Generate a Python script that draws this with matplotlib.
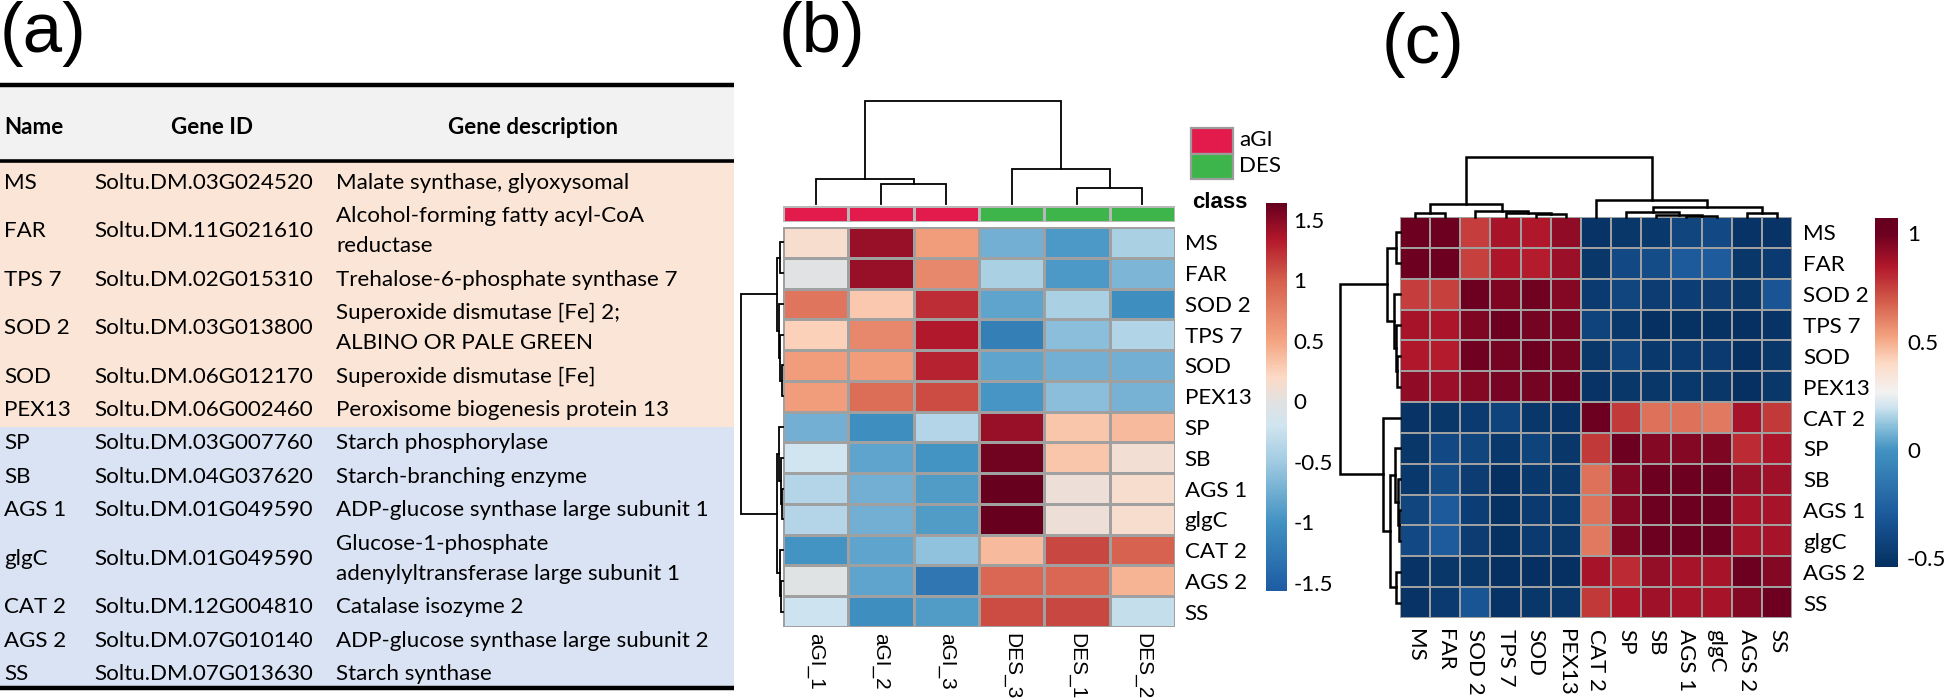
import numpy as np
import matplotlib
matplotlib.use("Agg")
import matplotlib.pyplot as plt
from matplotlib.colors import LinearSegmentedColormap, ListedColormap, Normalize
from matplotlib.patches import Rectangle
from matplotlib.textpath import TextPath
from matplotlib.font_manager import FontProperties

W, H, DPI = 1951, 700, 100

# ---------------- (a) table data ----------------
table_headers = ["Name", "Gene ID", "Gene description"]
gene_names = ["MS", "FAR", "TPS 7", "SOD 2", "SOD", "PEX13", "SP", "SB",
              "AGS 1", "glgC", "CAT 2", "AGS 2", "SS"]
gene_ids = ["Soltu.DM.03G024520", "Soltu.DM.11G021610", "Soltu.DM.02G015310",
            "Soltu.DM.03G013800", "Soltu.DM.06G012170", "Soltu.DM.06G002460",
            "Soltu.DM.03G007760", "Soltu.DM.04G037620", "Soltu.DM.01G049590",
            "Soltu.DM.01G049590", "Soltu.DM.12G004810", "Soltu.DM.07G010140",
            "Soltu.DM.07G013630"]
gene_desc = ["Malate synthase, glyoxysomal",
             "Alcohol-forming fatty acyl-CoA\nreductase",
             "Trehalose-6-phosphate synthase 7",
             "Superoxide dismutase [Fe] 2;\nALBINO OR PALE GREEN",
             "Superoxide dismutase [Fe]",
             "Peroxisome biogenesis protein 13",
             "Starch phosphorylase",
             "Starch-branching enzyme",
             "ADP-glucose synthase large subunit 1",
             "Glucose-1-phosphate\nadenylyltransferase large subunit 1",
             "Catalase isozyme 2",
             "ADP-glucose synthase large subunit 2",
             "Starch synthase"]
n_group1 = 6

# ---------------- (b) heatmap data ----------------
b_rows = ["MS", "FAR", "SOD 2", "TPS 7", "SOD", "PEX13", "SP", "SB",
          "AGS 1", "glgC", "CAT 2", "AGS 2", "SS"]
b_cols = ["aGI_1", "aGI_2", "aGI_3", "DES_3", "DES_1", "DES_2"]
b_class = [0, 0, 0, 1, 1, 1]
class_names = ["aGI", "DES"]
class_colors = ["#E31B4C", "#3DB54A"]
b_values = [
    [0.15, 1.45, 0.55, -0.75, -0.95, -0.45],
    [-0.02, 1.45, 0.70, -0.45, -0.95, -0.70],
    [0.85, 0.30, 1.25, -0.85, -0.45, -1.05],
    [0.25, 0.70, 1.35, -1.20, -0.62, -0.40],
    [0.55, 0.55, 1.30, -0.85, -0.75, -0.75],
    [0.55, 0.90, 1.10, -0.97, -0.62, -0.72],
    [-0.75, -1.05, -0.38, 1.45, 0.32, 0.38],
    [-0.20, -0.85, -1.00, 1.60, 0.32, 0.12],
    [-0.38, -0.75, -0.92, 1.64, 0.08, 0.16],
    [-0.38, -0.75, -0.92, 1.64, 0.08, 0.16],
    [-1.00, -0.85, -0.58, 0.38, 1.12, 0.98],
    [-0.03, -0.85, -1.30, 0.95, 0.95, 0.42],
    [-0.22, -1.05, -0.92, 1.10, 1.12, -0.28],
]
b_ticks = [1.5, 1, 0.5, 0, -0.5, -1, -1.5]
b_tick_labels = ["1.5", "1", "0.5", "0", "-0.5", "-1", "-1.5"]
b_range = (-1.57, 1.64)
b_anchor_vals = [-1.57, -1.0, -0.5, -0.2, 0.0, 0.2, 0.5, 1.0, 1.35, 1.64]
b_anchor_cols = ["#1d5ca3", "#4393c3", "#a2cce2", "#d1e5f0", "#e2e2e2",
                 "#fddbc7", "#f4a582", "#d6604d", "#b2182b", "#67001f"]
# trees: (height, left, right); leaves are positions in display order
b_col_tree = (1.0, (0.24, 0, (0.19, 1, 2)), (0.34, 3, (0.155, 4, 5)))
b_row_tree = (1.0,
              (0.14, (0.06, 0, 1), (0.10, 2, (0.07, 3, (0.03, 4, 5)))),
              (0.14, (0.09, 6, (0.05, 7, (0.02, 8, 9))), (0.08, 10, (0.04, 11, 12))))

# ---------------- (c) correlation data ----------------
c_labels = ["MS", "FAR", "SOD 2", "TPS 7", "SOD", "PEX13", "CAT 2", "SP", "SB",
            "AGS 1", "glgC", "AGS 2", "SS"]
c_values = [
    [1.00, 1.00, 0.76, 0.87, 0.85, 0.92, -0.52, -0.50, -0.49, -0.42, -0.40, -0.52, -0.52],
    [1.00, 1.00, 0.75, 0.86, 0.84, 0.90, -0.50, -0.40, -0.38, -0.30, -0.29, -0.50, -0.48],
    [0.76, 0.75, 1.00, 0.96, 0.99, 0.95, -0.48, -0.42, -0.47, -0.46, -0.47, -0.50, -0.33],
    [0.87, 0.86, 0.96, 1.00, 0.98, 0.97, -0.43, -0.49, -0.55, -0.53, -0.53, -0.56, -0.52],
    [0.85, 0.84, 0.99, 0.98, 1.00, 0.98, -0.50, -0.43, -0.49, -0.48, -0.48, -0.55, -0.50],
    [0.92, 0.90, 0.95, 0.97, 0.98, 1.00, -0.52, -0.50, -0.50, -0.49, -0.50, -0.56, -0.50],
    [-0.52, -0.50, -0.48, -0.43, -0.50, -0.52, 1.00, 0.77, 0.64, 0.64, 0.62, 0.87, 0.77],
    [-0.50, -0.40, -0.42, -0.49, -0.43, -0.50, 0.77, 1.00, 0.95, 0.95, 0.96, 0.80, 0.86],
    [-0.49, -0.38, -0.47, -0.55, -0.49, -0.50, 0.64, 0.95, 1.00, 1.00, 1.00, 0.91, 0.89],
    [-0.42, -0.30, -0.46, -0.53, -0.48, -0.49, 0.64, 0.95, 1.00, 1.00, 1.00, 0.87, 0.87],
    [-0.40, -0.29, -0.47, -0.53, -0.48, -0.50, 0.62, 0.96, 1.00, 1.00, 1.00, 0.87, 0.87],
    [-0.52, -0.50, -0.50, -0.56, -0.55, -0.56, 0.87, 0.80, 0.91, 0.87, 0.87, 1.00, 0.95],
    [-0.52, -0.48, -0.33, -0.52, -0.50, -0.50, 0.77, 0.86, 0.89, 0.87, 0.87, 0.95, 1.00],
]
c_ticks = [1, 0.5, 0, -0.5]
c_tick_labels = ["1", "0.5", "0", "-0.5"]
c_range = (-0.54, 1.07)
c_anchor_vals = [-0.54, -0.3, 0.0, 0.12, 0.2, 0.27, 0.4, 0.52, 0.68, 0.85, 1.0, 1.07]
c_anchor_cols = ["#053061", "#1c5a9c", "#4393c3", "#92c5de", "#d1e5f0", "#f4f2f1",
                 "#fddbc7", "#f4a582", "#d6604d", "#b2182b", "#6d0021", "#67001f"]
c_tree = (1.0,
          (0.21, (0.07, 0, 1), (0.10, 2, (0.07, 3, (0.05, 4, 5)))),
          (0.28, 6, (0.17, (0.08, 7, (0.04, 8, (0.02, 9, 10))), (0.07, 11, 12))))

# ---------------- styling ----------------
SANS = ["Lato", "DejaVu Sans"]
ARIAL = ["Liberation Sans", "DejaVu Sans"]
PEACH = "#FBE5D6"
BLUE = "#DAE3F3"
HEAD = "#F2F2F2"
GRID = "#A0A0A0"


def anchored_cmap(name, vals, cols):
    lo, hi = vals[0], vals[-1]
    pts = [((v - lo) / (hi - lo), c) for v, c in zip(vals, cols)]
    return LinearSegmentedColormap.from_list(name, pts), Normalize(lo, hi)


cmap_b, norm_b = anchored_cmap("cb", b_anchor_vals, b_anchor_cols)
cmap_c, norm_c = anchored_cmap("cc", c_anchor_vals, c_anchor_cols)


def fit_size(text, target_px, family, base=17.0):
    tp = TextPath((0, 0), text, size=base, prop=FontProperties(family=family))
    w = tp.get_extents().width * DPI / 72.0
    return base * target_px / w


FS = fit_size("Soltu.DM.03G024520", 218, SANS[0])

fig = plt.figure(figsize=(W / DPI, H / DPI), dpi=DPI)


def add_ax(x0, y0, x1, y1):
    return fig.add_axes([x0 / W, 1 - y1 / H, (x1 - x0) / W, (y1 - y0) / H])


ax0 = add_ax(0, 0, W, H)
ax0.set_xlim(0, W)
ax0.set_ylim(H, 0)
ax0.axis("off")

# ---------------- (a) table ----------------
TX0, TX1 = 0, 734
ax0.add_patch(Rectangle((TX0, 87), TX1 - TX0, 73, color=HEAD, lw=0))
y = 166.0
centers = []
bounds = []
for d in gene_desc:
    nl = d.count("\n") + 1
    hh = 33.4 if nl == 1 else 63.6
    centers.append(y + hh / 2)
    y += hh
    bounds.append(y)
split = bounds[n_group1 - 1]
ax0.add_patch(Rectangle((TX0, 162), TX1 - TX0, split - 162, color=PEACH, lw=0))
ax0.add_patch(Rectangle((TX0, split), TX1 - TX0, 687 - split, color=BLUE, lw=0))
for yy, lw in [(85, 3.2), (161, 2.6), (688, 3.2)]:
    ax0.plot([TX0, TX1], [yy, yy], color="black", lw=lw, solid_capstyle="butt")

ax0.text(4, 127, table_headers[0], fontsize=FS, family=SANS, weight="bold",
         ha="left", va="center")
ax0.text(212, 127, table_headers[1], fontsize=FS, family=SANS, weight="bold",
         ha="center", va="center")
ax0.text(533, 127, table_headers[2], fontsize=FS, family=SANS, weight="bold",
         ha="center", va="center")
for name, gid, desc, cy in zip(gene_names, gene_ids, gene_desc, centers):
    ax0.text(4, cy, name, fontsize=FS, family=SANS, ha="left", va="center")
    ax0.text(94, cy, gid, fontsize=FS, family=SANS, ha="left", va="center")
    lines = desc.split("\n")
    offs = [0] if len(lines) == 1 else [-15, 15]
    for ln, o in zip(lines, offs):
        ax0.text(336, cy + o, ln, fontsize=FS, family=SANS, ha="left", va="center")

# panel labels
for lab, px, py in [("(a)", 0, 1), ("(b)", 779, 1), ("(c)", 1382, 12)]:
    ax0.text(px, py, lab, fontsize=51, family=ARIAL, ha="left", va="top")


# ---------------- helpers ----------------
def draw_tree(ax, tree, orient, lw, color="black"):
    def rec(node):
        if isinstance(node, int):
            return node + 0.5, 0.0
        h, l, r = node
        xl, hl = rec(l)
        xr, hr = rec(r)
        if orient == "top":
            ax.plot([xl, xl, xr, xr], [hl, h, h, hr], color=color, lw=lw,
                    clip_on=False, solid_joinstyle="miter")
        else:
            ax.plot([hl, h, h, hr], [xl, xl, xr, xr], color=color, lw=lw,
                    clip_on=False, solid_joinstyle="miter")
        return (xl + xr) / 2, h
    rec(tree)
    ax.axis("off")


def gradient_bar(cax, rng, cmap, norm, ticks, labels, pad):
    lo, hi = rng
    grad = np.linspace(lo, hi, 400).reshape(-1, 1)
    cax.imshow(grad, aspect="auto", origin="lower", extent=(0, 1, lo, hi),
               cmap=cmap, norm=norm, interpolation="bilinear")
    cax.set_ylim(lo, hi)
    cax.set_xticks([])
    cax.yaxis.tick_right()
    cax.set_yticks(ticks)
    cax.set_yticklabels(labels, fontsize=FS, family=SANS)
    cax.tick_params(axis="y", length=0, pad=pad)
    for s in cax.spines.values():
        s.set_visible(False)


# ---------------- (b) ----------------
vb = np.array(b_values)
ax_hb = add_ax(783, 227, 1175, 627)
ax_hb.pcolormesh(vb, cmap=cmap_b, norm=norm_b, edgecolors=GRID, linewidth=1.0)
ax_hb.set_xlim(0, len(b_cols))
ax_hb.set_ylim(len(b_rows), 0)
ax_hb.set_xticks(np.arange(len(b_cols)) + 0.5)
ax_hb.set_xticklabels(b_cols, rotation=270, fontsize=15, family=ARIAL,
                      ha="center", va="top")
ax_hb.yaxis.tick_right()
ax_hb.set_yticks(np.arange(len(b_rows)) + 0.5)
ax_hb.set_yticklabels(b_rows, fontsize=FS, family=SANS)
ax_hb.tick_params(axis="x", length=0, pad=4.5)
ax_hb.tick_params(axis="y", length=0, pad=7)
for s in ax_hb.spines.values():
    s.set_visible(False)

ax_cls = add_ax(783, 206, 1175, 222)
ax_cls.pcolormesh(np.array([b_class]), cmap=ListedColormap(class_colors),
                  vmin=-0.5, vmax=1.5, edgecolors="#B8B8B8", linewidth=0.8)
ax_cls.set_xlim(0, len(b_cols))
ax_cls.axis("off")

ax_dcb = add_ax(783, 101, 1175, 204)
ax_dcb.set_xlim(0, len(b_cols))
ax_dcb.set_ylim(0, 1)
draw_tree(ax_dcb, b_col_tree, "top", lw=1.3)

ax_drb = add_ax(741, 227, 783, 627)
ax_drb.set_xlim(1, 0)
ax_drb.set_ylim(len(b_rows), 0)
draw_tree(ax_drb, b_row_tree, "left", lw=1.3)

# legend
for i, (nm, colr) in enumerate(zip(class_names, class_colors)):
    y0 = 128 + i * 25.5
    ax0.add_patch(Rectangle((1191, y0), 42, 25.5, facecolor=colr,
                            edgecolor="#9C9C9C", lw=1.6))
    ax0.text(1239, y0 + 12.5, nm, fontsize=FS, family=SANS, ha="left", va="center")
ax0.text(1192, 208, "class", fontsize=16, family=ARIAL, weight="bold",
         ha="left", va="baseline")

cax_b = add_ax(1266, 203, 1287, 591)
gradient_bar(cax_b, b_range, cmap_b, norm_b, b_ticks, b_tick_labels, pad=4.5)

# ---------------- (c) ----------------
vc = np.array(c_values)
n = len(c_labels)
ax_hc = add_ax(1400, 217, 1792, 618)
ax_hc.pcolormesh(vc, cmap=cmap_c, norm=norm_c, edgecolors=GRID, linewidth=1.4)
ax_hc.set_xlim(0, n)
ax_hc.set_ylim(n, 0)
ax_hc.set_xticks(np.arange(n) + 0.5)
ax_hc.set_xticklabels(c_labels, rotation=270, fontsize=FS, family=SANS,
                      ha="center", va="top")
ax_hc.yaxis.tick_right()
ax_hc.set_yticks(np.arange(n) + 0.5)
ax_hc.set_yticklabels(c_labels, fontsize=FS, family=SANS)
ax_hc.tick_params(axis="x", length=0, pad=8)
ax_hc.tick_params(axis="y", length=0, pad=8)
for s in ax_hc.spines.values():
    s.set_visible(False)

ax_dcc = add_ax(1400, 157, 1792, 217)
ax_dcc.set_xlim(0, n)
ax_dcc.set_ylim(0, 1)
draw_tree(ax_dcc, c_tree, "top", lw=1.8)

ax_drc = add_ax(1340, 217, 1400, 618)
ax_drc.set_xlim(1, 0)
ax_drc.set_ylim(n, 0)
draw_tree(ax_drc, c_tree, "left", lw=1.8)

cax_c = add_ax(1875, 218, 1898, 567)
gradient_bar(cax_c, c_range, cmap_c, norm_c, c_ticks, c_tick_labels, pad=6.5)

fig.savefig("out.png", dpi=DPI)
